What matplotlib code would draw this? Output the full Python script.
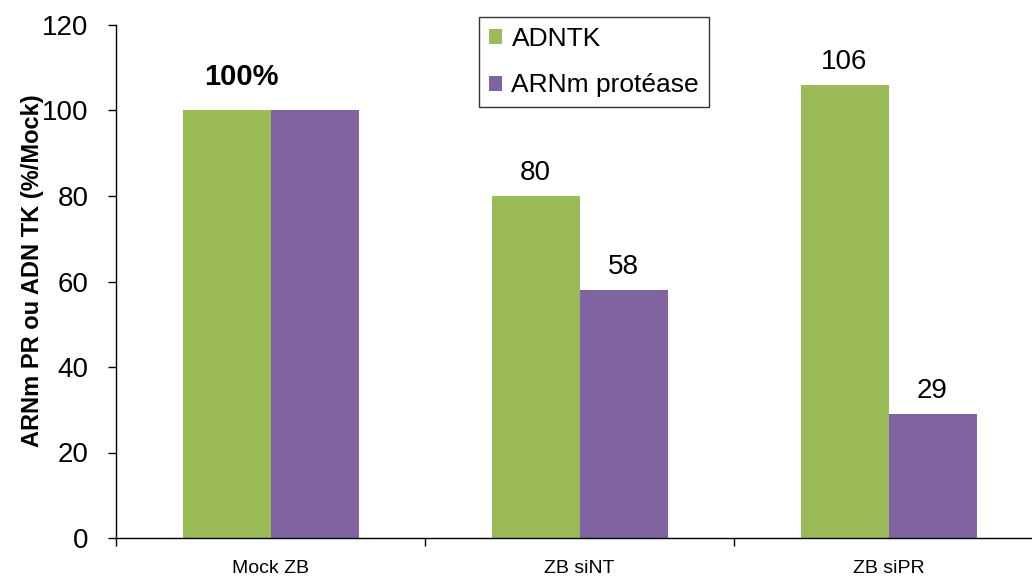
import matplotlib.pyplot as plt
import numpy as np

plt.rcParams['font.family'] = ['Liberation Sans', 'DejaVu Sans']

categories = ["Mock ZB", "ZB siNT", "ZB siPR"]
adntk = [100, 80, 106]
arnm = [100, 58, 29]
labels_adntk = ["", "80", "106"]
labels_arnm = ["", "58", "29"]

green = "#9BBB59"
purple = "#8064A2"

fig = plt.figure(figsize=(10.32, 5.81), dpi=100)
ax = fig.add_axes([116 / 1032, 1 - 538 / 581, 1 - 116 / 1032, (538 - 25) / 581])

x = np.arange(len(categories)) + 0.5
w = 88 / 309
ax.bar(x - w / 2, adntk, w, color=green, label="ADNTK")
ax.bar(x + w / 2, arnm, w, color=purple, label="ARNm protéase")

# value labels above the bars
for xi, v, t in zip(x - w / 2, adntk, labels_adntk):
    if t:
        ax.annotate(t, (xi, v), xytext=(0, 11.5), textcoords="offset points",
                    ha="center", va="baseline", fontsize=20)
for xi, v, t in zip(x + w / 2, arnm, labels_arnm):
    if t:
        ax.annotate(t, (xi, v), xytext=(0, 11.5), textcoords="offset points",
                    ha="center", va="baseline", fontsize=20)
ax.annotate("100%", (x[0] - 0.095, 100), xytext=(0, 18), textcoords="offset points",
            ha="center", va="baseline", fontsize=21, fontweight="bold")

ax.set_xlim(0, 916 / 309)
ax.set_ylim(0, 120)
ax.set_yticks(range(0, 121, 20))
ax.tick_params(axis="y", labelsize=20, length=5.8, width=1, direction="out", pad=14)
ax.set_xticks([0, 1, 2])
ax.set_xticklabels([])
ax.set_xticks(x, minor=True)
ax.set_xticklabels(categories, minor=True, fontsize=14)
ax.tick_params(axis="x", which="major", length=5.8, width=1, direction="out")
ax.tick_params(axis="x", which="minor", length=0, pad=16)

for s in ["top", "right"]:
    ax.spines[s].set_visible(False)
ax.spines["left"].set_linewidth(1)
ax.spines["bottom"].set_linewidth(1)

ax.set_ylabel("ARNm PR ou ADN TK (%/Mock)", fontsize=17, fontweight="bold")
ax.yaxis.set_label_coords(-0.079, 0.522)

leg = ax.legend(loc="upper left", bbox_to_anchor=(479 / 1032, 1 - 17 / 581),
                bbox_transform=fig.transFigure, fontsize=19, frameon=True,
                fancybox=False, handlelength=0.5, handleheight=0.5,
                handletextpad=0.35, borderpad=0.38, labelspacing=0.85, borderaxespad=0)
leg.get_frame().set_edgecolor("black")
leg.get_frame().set_linewidth(1)

fig.savefig("out.png", dpi=100)
